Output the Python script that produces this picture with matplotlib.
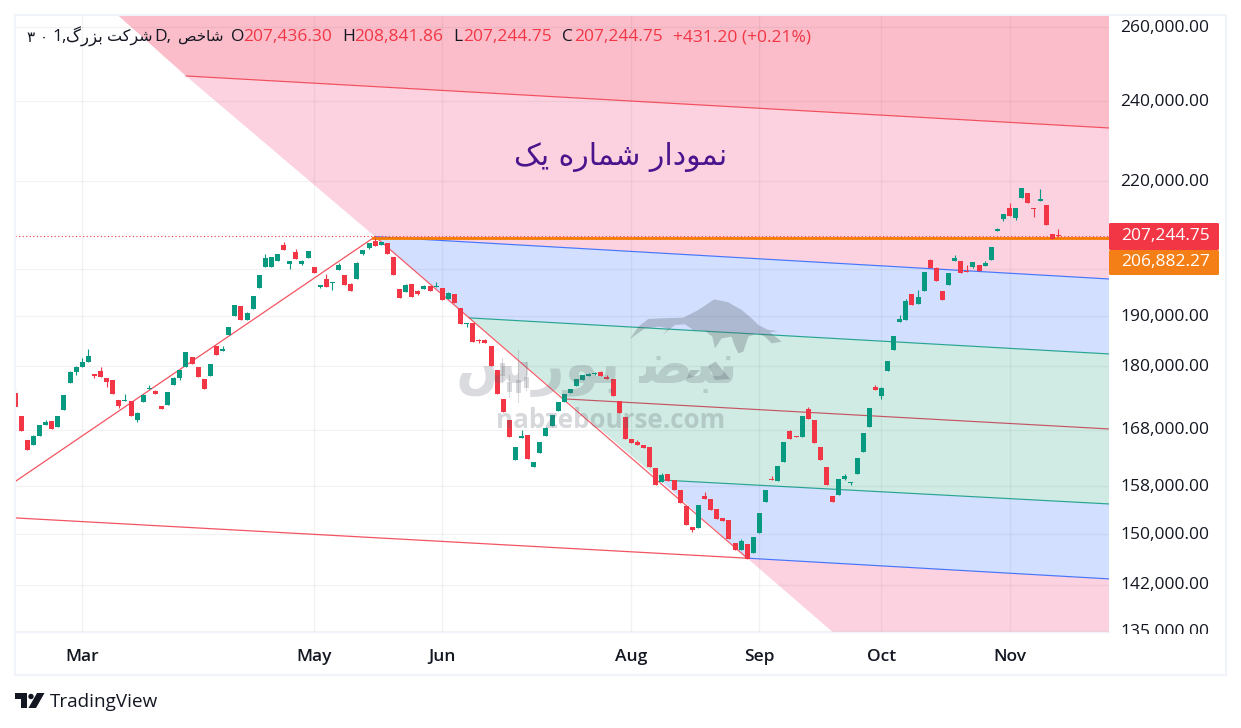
import matplotlib
matplotlib.use("Agg")
import matplotlib.pyplot as plt
import numpy as np
from matplotlib.patches import Circle, FancyBboxPatch, Polygon, Rectangle
from matplotlib.ticker import NullLocator
from matplotlib.transforms import Affine2D, Bbox

# ── Data ──────────────────────────────────────────────────────────────────────

opens = [
    174850, 170540, 166160, 165260, 166880, 168890, 169620, 168520, 171660, 176760,
    178880, 179860, 180830, 178490, 179080, 177720, 177340, 173530, 173340, 173340,
    169800, 173150, 175610, 175230, 172400, 172590, 176380, 177720, 179860, 181820,
    179860, 177530, 178110, 184000, 183000,
    186210, 190090, 192160, 189260, 191540, 195950, 200470, 200470, 201780, 205310,
    201120, 203760, 201120, 202430, 200470, 196160, 197870, 197090, 199820, 198730,
    196800, 197870, 203310, 204640, 206200, 205310, 205750, 202650, 195740, 195100,
    196800, 195310, 195740, 196380, 196160,
    195950, 193630, 194680, 191740, 188440, 188650, 185200, 185200, 184000, 179270,
    173720, 169800, 162590, 166520, 167060, 161360, 163830, 166880, 168700, 171470,
    173150, 174850, 176190, 177340, 178110, 178490, 178880, 177910, 177530, 173340,
    170360, 166340, 165800, 165260, 164900,
    161190, 158760, 160140, 159100, 157390, 154680, 151190, 151030, 156370, 155860,
    154180, 152680, 152350, 148590, 147470, 148430, 146990, 150210, 155350, 159280,
    158930, 162240, 167790, 166880, 166700, 171840, 169800, 164900, 161360, 156370,
    156530, 159280, 158590, 160140, 164010,
    168520, 175990, 174280, 179080, 183200, 188850, 189260, 194680, 192580, 195310,
    201990, 200250, 195310, 196590, 201780, 201780, 199670, 200470, 200900, 200680,
    201990, 208450, 211180, 213720, 211410, 216050, 217220, 213720, 215350, 214420,
    207770, 207550,
]
highs = [
    175610, 170540, 166160, 167060, 168890, 169800, 169620, 170540, 174470, 179080,
    180050, 181620, 183400, 178490, 179860, 177720, 177340, 173530, 174660, 173340,
    171290, 174660, 176380, 175420, 172400, 175040, 177910, 179270, 182810, 181820,
    179860, 177530, 180440, 184000, 184000,
    187830, 192370, 192160, 190910, 194260, 198730, 203310, 202650, 203310, 205980,
    201780, 204420, 201990, 203980, 200470, 196590, 198950, 197300, 201340, 198730,
    197020, 201560, 204200, 205750, 206870, 205980, 205750, 202650, 195740, 196800,
    196800, 195530, 196590, 196380, 197230,
    195950, 195100, 194680, 191740, 188650, 188650, 185400, 185400, 184000, 179270,
    173720, 169800, 164900, 167970, 167060, 162240, 165800, 168520, 170730, 173150,
    174660, 175610, 177530, 178300, 178690, 178880, 179080, 178300, 177530, 173340,
    170360, 166340, 166160, 165260, 164900,
    161190, 160320, 160140, 159100, 157390, 154680, 151190, 154850, 157050, 155860,
    154180, 152680, 152350, 148590, 149240, 148430, 149560, 153510, 157390, 159800,
    161540, 165800, 167970, 166880, 170540, 172220, 169800, 164900, 161360, 156370,
    159280, 160140, 158760, 162950, 167430,
    172030, 176380, 175990, 181030, 186010, 190290, 193630, 194680, 195530, 199380,
    202210, 200470, 195310, 199170, 203090, 201780, 200900, 201560, 200900, 201780,
    204860, 209130, 212330, 214880, 213720, 218410, 217220, 213720, 218170, 214420,
    207770, 208900,
]
lows = [
    172220, 167790, 164370, 165260, 166880, 168890, 168150, 168520, 171660, 176760,
    178300, 179860, 180830, 177720, 177910, 175990, 174660, 172030, 173340, 170540,
    169440, 173150, 175610, 174660, 171840, 172590, 176380, 177340, 179860, 180440,
    177910, 175610, 178110, 182210, 183000,
    186210, 190090, 189260, 189260, 191540, 195950, 200470, 200470, 201780, 204200,
    200030, 202210, 200900, 202430, 199170, 195950, 196160, 195530, 199820, 196590,
    195310, 197870, 203090, 204420, 205090, 205310, 203310, 198730, 193840, 195100,
    194050, 194470, 195740, 195310, 196160,
    193420, 193630, 192790, 188440, 187830, 184800, 184600, 184600, 180050, 174660,
    171290, 166700, 162590, 166520, 162770, 161360, 163830, 166880, 168700, 171470,
    173150, 174850, 176190, 177340, 178110, 178300, 178110, 177530, 174280, 171100,
    166340, 165620, 165260, 164720, 161360,
    158240, 158760, 158930, 157390, 155180, 151520, 150380, 151030, 155860, 154010,
    152510, 152180, 149240, 147470, 147470, 146030, 146990, 150210, 155350, 159100,
    158930, 162240, 166340, 166700, 166700, 169990, 165620, 162590, 158240, 155350,
    156530, 159100, 158240, 160140, 164010,
    168520, 175420, 173720, 179080, 183200, 188850, 189260, 192370, 192580, 195310,
    200250, 197440, 193420, 196590, 201780, 199170, 199450, 200250, 199530, 200680,
    201990, 208450, 210730, 211870, 210950, 216050, 214880, 211640, 215350, 209810,
    206650, 207100,
]
closes = [
    172220, 167790, 164370, 166880, 168890, 169440, 168150, 170540, 174470, 178880,
    179860, 180830, 182010, 178110, 177910, 176950, 174660, 172400, 173530, 170540,
    171100, 174470, 175800, 174660, 171840, 175040, 177720, 179270, 182810, 180440,
    177910, 175610, 180440, 182210, 183400,
    187830, 192370, 189260, 190710, 194260, 198730, 202430, 202650, 203310, 204200,
    201780, 202210, 201780, 203980, 199170, 196590, 196160, 197300, 200900, 196590,
    195310, 201340, 204200, 205750, 205090, 205980, 203310, 198730, 193840, 196590,
    194050, 194680, 196380, 195310, 196310,
    193420, 194890, 192790, 188440, 188650, 184800, 184930, 184600, 180050, 174660,
    171290, 166700, 164900, 166880, 162770, 162240, 165800, 168340, 170730, 173150,
    174660, 175610, 177530, 178300, 178490, 178690, 178110, 177530, 174280, 171100,
    166340, 165620, 165260, 164720, 161360,
    158240, 159970, 158930, 157390, 155180, 151520, 150700, 154850, 155860, 154010,
    152510, 152180, 149240, 147470, 148910, 146030, 149560, 153510, 157390, 159100,
    161540, 165800, 166340, 166700, 170540, 169990, 165620, 162590, 158240, 155350,
    159280, 159800, 158760, 162950, 167430,
    172030, 175420, 175800, 181030, 186010, 189470, 193210, 192370, 194050, 199380,
    200250, 197440, 193420, 199170, 202430, 199170, 199450, 201560, 199530, 201340,
    204860, 208900, 212330, 211870, 213720, 218410, 214880, 213490, 215820, 209810,
    206650, 207320,
]

price_ticks = [260000, 240000, 220000, 200000, 190000, 180000, 168000, 158000, 150000, 142000, 135000]
price_labels = ["260,000.00", "240,000.00", "220,000.00", "", "190,000.00", "180,000.00",
                "168,000.00", "158,000.00", "150,000.00", "142,000.00", "135,000.00"]
month_idx = [11, 49, 70, 101, 122, 142, 163]
month_labels = ["Mar", "May", "Jun", "Aug", "Sep", "Oct", "Nov"]

# trend lines: bar index and price at each end
fib_start_idx = [28, 59, 74.5, 90.1, 105.7, 120]
fib_start_price = [246630, 207170, 189680, 173720, 159100, 146150]
fib_end_price = [233100, 197870, 182410, 168150, 155010, 142900]
fib_colors = ["#F23645", "#2962FF", "#089981", "#C2394B", "#089981", "#2962FF"]
fib_fills = ["#FCD2E0", "#D2DFFE", "#CFEBE4", "#CFEBE4", "#D2DFFE"]
rise_idx = [0, 59]
rise_price = [158830, 207170]
low_line_idx = [-0.03, 120]
low_line_price = [152680, 146150]
last_price = 207244.75
level_price = 206882.27

GREEN, RED, ORANGE = "#089981", "#F23645", "#F57C00"
INK = "#131722"
FONT = ["Open Sans", "DejaVu Sans"]
ARABIC = ["DejaVu Sans"]
MARK = "#5A5F6A"


def fa(forms):
    # matplotlib has no shaping: glyphs come shaped, and run left to right
    return forms[::-1]


# ── Figure ────────────────────────────────────────────────────────────────────

W, H = 1241, 728
fig = plt.figure(figsize=(W / 100, H / 100), dpi=100, facecolor="white")
plt.rcParams["font.family"] = FONT
ax = fig.add_axes([15 / W, 1 - 632 / H, (1109 - 15) / W, (632 - 15) / H])
ax.set_yscale("log")
x_left, x_right = -0.03, 179.3
y_top, y_bottom = 263500, 134900
ax.set_xlim(x_left, x_right)
ax.set_ylim(y_bottom, y_top)

# zones
ax.add_patch(Polygon([(16.8, y_top), (x_right, y_top), (x_right, fib_end_price[0]),
                      (fib_start_idx[0], fib_start_price[0])], fc="#FBBDC9", ec="none", zorder=1))
ax.add_patch(Polygon([(fib_start_idx[0], fib_start_price[0]), (x_right, fib_end_price[0]),
                      (x_right, fib_end_price[1]), (fib_start_idx[1], fib_start_price[1])],
                     fc=fib_fills[0], ec="none", zorder=1))
for k in range(1, 5):
    ax.add_patch(Polygon([(fib_start_idx[k], fib_start_price[k]), (x_right, fib_end_price[k]),
                          (x_right, fib_end_price[k + 1]), (fib_start_idx[k + 1], fib_start_price[k + 1])],
                         fc=fib_fills[k], ec="none", zorder=1))
ax.add_patch(Polygon([(fib_start_idx[5], fib_start_price[5]), (x_right, fib_end_price[5]),
                      (x_right, y_bottom), (134, y_bottom)], fc=fib_fills[0], ec="none", zorder=1))

# grid
ax.set_xticks(month_idx)
ax.set_xticklabels(month_labels, fontsize=12.5, fontweight="semibold", color=INK)
ax.set_yticks(price_ticks)
ax.yaxis.set_minor_locator(NullLocator())
ax.yaxis.tick_right()
ax.set_yticklabels(price_labels, fontsize=12.5, color=INK)
ax.tick_params(length=0)
ax.tick_params(axis="x", pad=12)
ax.tick_params(axis="y", pad=8)
ax.grid(True, color="#2A2E39", alpha=0.06, linewidth=0.9)
ax.set_axisbelow("line")
for s in ax.spines.values():
    s.set_visible(False)
# 135,000 sits on the pane edge, TradingView cuts it at the axis bottom
clip = Bbox([[1109, H - 634], [1226, H - 15]])
for lab in ax.get_yticklabels():
    lab.set_transform(lab.get_transform() + Affine2D().translate(0, 1.5))
    lab.set_clip_box(clip)
    lab.set_clip_on(True)

# trend lines
for i, p0, p1, c in zip(fib_start_idx, fib_start_price, fib_end_price, fib_colors):
    ax.plot([i, x_right], [p0, p1], color=c, lw=0.85, alpha=0.85, zorder=2)
ax.plot(rise_idx, rise_price, color=RED, lw=0.9, alpha=0.85, zorder=2)
ax.plot(low_line_idx, low_line_price, color=RED, lw=0.9, alpha=0.85, zorder=2)
ax.plot([rise_idx[1], fib_start_idx[5]], [fib_start_price[1], fib_start_price[5]],
        color=RED, lw=0.9, alpha=0.8, zorder=2)
ax.plot([58.6, x_right], [level_price, level_price], color=ORANGE, lw=2.0, zorder=2.2)
ax.axhline(last_price, color=RED, lw=0.8, ls=(0, (1, 2.2)), zorder=2.3)

# candles
o, h, l, c = map(np.array, (opens, highs, lows, closes))
x = np.arange(len(o))
colors = np.where(c >= o, GREEN, RED)
ax.vlines(x, l, h, colors=colors, lw=0.8, zorder=3)
ax.bar(x, np.abs(c - o), bottom=np.minimum(o, c), width=0.82, color=colors, linewidth=0, zorder=3.1)

# ── Overlay: watermark, legend, price tags, frame, logo ───────────────────────

ov = fig.add_axes([0, 0, 1, 1], facecolor="none", zorder=5)
ov.set_xlim(0, W)
ov.set_ylim(H, 0)
ov.axis("off")


def mark(points):
    ov.add_patch(Polygon([(625 + a / 3, 295 + b / 3) for a, b in points], fc=MARK, ec="none", alpha=0.3))


mark([(15, 132), (40, 95), (70, 72), (110, 70), (175, 68), (220, 45), (268, 13), (310, 22), (350, 45),
      (380, 70), (400, 90), (430, 105), (460, 108), (435, 112), (470, 140), (440, 145), (420, 125),
      (395, 115), (370, 125), (355, 170), (340, 175), (328, 150), (320, 125), (290, 130), (270, 160),
      (262, 125), (240, 108), (205, 105), (180, 88), (150, 90), (115, 118), (130, 100), (100, 95), (60, 100)])
mark([(272, 200), (315, 252), (270, 255), (250, 212)])
mark([(185, 252), (195, 225), (225, 225), (205, 245)])
for cx, y0, y1, w0, w1 in [(502, 363, 376, 358, 382), (509, 382, 392, 375, 397),
                           (518, 380, 393, 350, 402), (526, 377, 388, 362, 390)]:
    ov.add_patch(Rectangle((cx - 2.5, y0), 5, y1 - y0, fc=MARK, ec="none", alpha=0.22))
    ov.plot([cx, cx], [w0, w1], color=MARK, lw=0.8, alpha=0.22)
ov.text(597, 370, fa("\uFEE7\uFE92\uFEC0 \uFE91\uFEEE\uFEAD\uFEB1"), family=ARABIC, fontweight="bold",
        fontsize=40, color=MARK, alpha=0.22, ha="center", va="center")
ov.text(611, 420, "nabzebourse.com", fontsize=18.7, fontweight="bold", color=MARK,
        alpha=0.24, ha="center", va="center")

ov.text(621, 156.5, fa("\uFEE7\uFEE4\uFEEE\uFEA9\uFE8D\uFEAD \uFEB7\uFEE4\uFE8E\uFEAD\uFEE9 \uFBFE\uFB8F"),
        family=ARABIC, fontsize=21.5, color="#4A148C", ha="center", va="center")

# legend line
leg_y = 37
ov.text(27, leg_y, "\u06F3 \u06F0", family=ARABIC, fontsize=11, color=INK, va="center")
ov.text(52, leg_y, "1,", fontsize=12.5, color=INK, va="center")
ov.text(66, leg_y, fa("\uFE91\uFEB0\uFEAD\uFB92"), family=ARABIC, fontsize=12, color=INK, va="center")
ov.text(107, leg_y, fa("\uFEB7\uFEAE\uFB90\uFE96"), family=ARABIC, fontsize=11.5, color=INK, va="center")
ov.text(154, leg_y, "D,", fontsize=12.5, color=INK, va="center")
ov.text(178, leg_y, fa("\uFEB7\uFE8E\uFEA7\uFEBA"), family=ARABIC, fontsize=11, color=INK, va="center")
for lx, lab, vx, val in [(231, "O", 243, "207,436.30"), (342, "H", 354, "208,841.86"),
                         (453, "L", 463, "207,244.75"), (562, "C", 574, "207,244.75")]:
    ov.text(lx, leg_y, lab, fontsize=12.5, color=INK, va="center")
    ov.text(vx, leg_y, val, fontsize=12.5, color=RED, va="center")
ov.text(673, leg_y, "+431.20 (+0.21%)", fontsize=12.5, color=RED, va="center")

# price tags
for y0, y1, col, val in [(223, 250, RED, last_price), (250, 275, "#F57F17", level_price)]:
    ov.add_patch(FancyBboxPatch((1109, y0), 110, y1 - y0, boxstyle="round,pad=0,rounding_size=1.5",
                                fc=col, ec="none"))
    ov.text(1121, (y0 + y1) / 2 - 0.5, f"{val:,.2f}", fontsize=12.5, color="white", va="center")

# frame
ov.add_patch(Rectangle((15, 15), 1211, 660, fc="none", ec="#F0F3FA", lw=1.5))
ov.plot([15, 1109], [632, 632], color="#F0F3FA", lw=1)

# TradingView logo
ov.add_patch(Polygon([(15, 693), (27, 693), (27, 708), (21, 708), (21, 699), (15, 699)], fc=INK, ec="none"))
ov.add_patch(Circle((31, 696.5), 2.7, fc=INK, ec="none"))
ov.add_patch(Polygon([(37, 693), (44.5, 693), (36, 708), (28.5, 708)], fc=INK, ec="none"))
ov.text(50, 702, "TradingView", fontsize=13.6, color=INK, va="center")

fig.savefig("out.png", dpi=100)
